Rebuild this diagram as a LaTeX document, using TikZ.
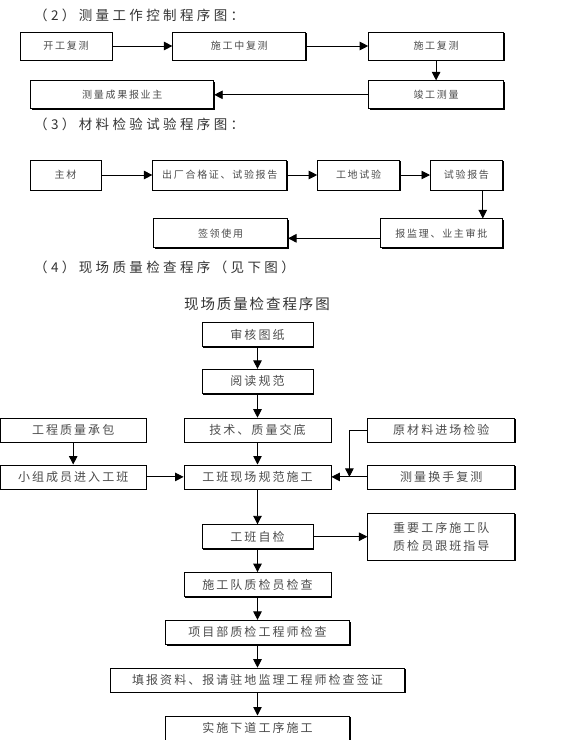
\documentclass[tikz,border=0pt]{standalone}
\usepackage{fontspec}
\setmainfont{Noto Sans CJK SC}
\newfontfamily\boxfont{Noto Sans CJK SC}[LetterSpace=17]
\newfontfamily\headfont{Noto Sans CJK SC}[LetterSpace=25]
\newfontfamily\capfont{Noto Sans CJK SC}[LetterSpace=13]
\usepackage{tikz}
\usetikzlibrary{arrows.meta, positioning, shadows, calc}
\tikzstyle{box}=[rectangle, draw=black, line width=0.8pt, fill=white, drop shadow={shadow xshift=1.2pt, shadow yshift=-1.2pt, fill=black, opacity=1}, inner sep=0pt, minimum height=28pt, text=black!70, font=\boxfont\fontsize{10}{12}\selectfont]
\tikzstyle{bigbox}=[box, minimum height=24pt, font=\boxfont\fontsize{12}{18}\selectfont]
\tikzstyle{heading}=[anchor=west, inner sep=0pt, text=black!80, font=\headfont\fontsize{13.5}{16}\selectfont]
\tikzstyle{arrow}=[line width=0.9pt, -{Triangle[length=8.5pt, width=8.5pt]}]

\begin{document}
\begin{tikzpicture}[x=1pt, y=-1pt, node distance=23pt and 36pt]
    \useasboundingbox (0,0) rectangle (574,740);

    \node[heading] (t2) at (34,15) {（2）测量工作控制程序图：};
    \node[box, minimum width=92pt] (resurvey) at (66,46) {开工复测};
    \node[box, right=60pt of resurvey, minimum width=133pt] (midcheck) {施工中复测};
    \node[box, right=62pt of midcheck, minimum width=135pt] (recheck) {施工复测};
    \node[box, below=20pt of recheck, minimum width=135pt] (final) {竣工测量};
    \node[box, left=154pt of final, minimum width=183pt] (report) {测量成果报业主};

    \draw[arrow] (resurvey) -- (midcheck);
    \draw[arrow] (midcheck) -- (recheck);
    \draw[arrow] (recheck) -- (final);
    \draw[arrow] (final) -- (report);

    \node[heading] (t3) at (34,124) {（3）材料检验试验程序图：};
    \node[box, minimum width=71pt, minimum height=30pt] (material) at (65.5,175) {主材};
    \node[box, right=51pt of material, minimum width=134pt, minimum height=30pt] (cert) {出厂合格证、试验报告};
    \node[box, right=30pt of cert, minimum width=82pt, minimum height=30pt] (sitetest) {工地试验};
    \node[box, right=30pt of sitetest, minimum width=72pt, minimum height=30pt] (testrep) {试验报告};
    \node[box, below=28pt of testrep.south east, anchor=north east, minimum width=122pt, minimum height=29pt] (approve) {报监理、业主审批};
    \node[box, left=92pt of approve, minimum width=134pt, minimum height=29pt] (use) {签领使用};

    \draw[arrow] (material) -- (cert);
    \draw[arrow] (cert) -- (sitetest);
    \draw[arrow] (sitetest) -- (testrep);
    \draw[arrow] ([xshift=-20pt]testrep.south east) -- ([xshift=-20pt]testrep.south east |- approve.north);
    \draw[arrow] ([yshift=-5pt]approve.west) -- ([yshift=-5pt]approve.west -| use.east);

    \node[heading] (t4) at (34,267) {（4）现场质量检查程序（见下图）};
    \node[inner sep=0pt, text=black!80, font=\capfont\fontsize{14.5}{16}\selectfont] (t5) at (257,304) {现场质量检查程序图};

    \node[bigbox, minimum width=111pt] (drawings) at (257.5,334.5) {审核图纸};
    \node[bigbox, below=22pt of drawings, minimum width=111pt] (codes) {阅读规范};
    \node[bigbox, below=24pt of codes, minimum width=147pt] (briefing) {技术、质量交底};
    \node[bigbox, left=37pt of briefing, minimum width=146pt] (contract) {工程质量承包};
    \node[bigbox, right=36pt of briefing, minimum width=147pt] (rawmat) {原材料进场检验};
    \node[bigbox, below=22pt of briefing, minimum width=147pt] (construct) {工班现场规范施工};
    \node[bigbox, left=37pt of construct, minimum width=146pt] (crew) {小组成员进入工班};
    \node[bigbox, right=36pt of construct, minimum width=147pt] (survey) {测量换手复测};
    \node[bigbox, below=35pt of construct, minimum width=111pt] (selfchk) {工班自检};
    \node[bigbox, right=54pt of selfchk, minimum width=147pt, minimum height=47pt, align=center] (guide) {重要工序施工队\\质检员跟班指导};
    \node[bigbox, below=of selfchk, minimum width=147pt] (teamchk) {施工队质检员检查};
    \node[bigbox, below=of teamchk, minimum width=184pt] (engchk) {项目部质检工程师检查};
    \node[bigbox, below=of engchk, minimum width=294pt] (submit) {填报资料、报请驻地监理工程师检查签证};
    \node[bigbox, below=of submit, minimum width=184pt] (nextstep) {实施下道工序施工};
    \coordinate (join) at ($(construct.east)!0.5!(survey.west)$);

    \draw[arrow] (drawings) -- (codes);
    \draw[arrow] (codes) -- (briefing);
    \draw[arrow] (briefing) -- (construct);
    \draw[arrow] (contract) -- (crew);
    \draw[arrow] (crew) -- (construct);
    \draw[arrow] (survey) -- (construct);
    \draw[arrow] (rawmat.west) -| (join);
    \draw[arrow] (construct) -- (selfchk);
    \draw[arrow] (selfchk) -- (guide);
    \draw[arrow] (selfchk) -- (teamchk);
    \draw[arrow] (teamchk) -- (engchk);
    \draw[arrow] (engchk) -- (submit);
    \draw[arrow] (submit) -- (nextstep);
\end{tikzpicture}
\end{document}
